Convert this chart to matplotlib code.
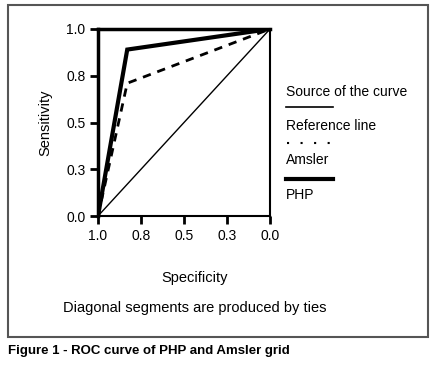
import matplotlib.pyplot as plt
from matplotlib.lines import Line2D
from matplotlib.patches import Rectangle

plt.rcParams['font.family'] = ['Liberation Sans', 'DejaVu Sans']

# 1 - specificity on x, sensitivity on y
ref_x = [0.0, 1.0]
ref_y = [0.0, 1.0]
amsler_x = [0.0, 0.17, 1.0]
amsler_y = [0.0, 0.71, 1.0]
php_x = [0.0, 0.17, 1.0]
php_y = [0.0, 0.89, 1.0]

tick_pos = [0.0, 0.25, 0.5, 0.75, 1.0]
x_labels = ['1.0', '0.8', '0.5', '0.3', '0.0']
y_labels = ['0.0', '0.3', '0.5', '0.8', '1.0']

fig = plt.figure(figsize=(4.35, 3.69), dpi=100)
ax = fig.add_axes([98/435, 1-216/369, 172/435, 187/369])

ax.plot(ref_x, ref_y, color='black', lw=1.0)
ax.plot(amsler_x, amsler_y, color='black', lw=2.0, ls=(0, (3, 2.5)))
ax.plot(php_x, php_y, color='black', lw=3.0, solid_joinstyle='miter')

ax.set_xlim(0, 1)
ax.set_ylim(0, 1)
ax.set_xticks(tick_pos)
ax.set_xticklabels(x_labels)
ax.set_yticks(tick_pos)
ax.set_yticklabels(y_labels)
ax.tick_params(direction='out', length=6, width=2, labelsize=10, pad=3)
for side in ['left', 'top']:
    ax.spines[side].set_linewidth(2.5)
for side in ['right', 'bottom']:
    ax.spines[side].set_linewidth(1.5)
ax.set_ylabel('Sensitivity', fontsize=10.5, labelpad=10)

fig.text(195/435, 1-278/369, 'Specificity', fontsize=10.5, ha='center', va='center')
fig.text(195/435, 1-308/369, 'Diagonal segments are produced by ties', fontsize=10.5,
         ha='center', va='center')

# legend block on the right
lx = 286/435
fig.text(lx, 1-92/369, 'Source of the curve', fontsize=10, va='center')
fig.lines.append(Line2D([lx, 333/435], [1-107/369]*2, color='black', lw=1.2,
                        transform=fig.transFigure))
fig.text(lx, 1-126/369, 'Reference line', fontsize=10, va='center')
fig.lines.append(Line2D([lx + 1/435, 333/435], [1-143/369]*2, color='black', lw=1.5,
                        ls=(0, (1, 5.5)), transform=fig.transFigure))
fig.text(lx, 1-160/369, 'Amsler', fontsize=10, va='center')
fig.lines.append(Line2D([lx, 333/435], [1-179/369]*2, color='black', lw=3,
                        transform=fig.transFigure))
fig.text(lx, 1-195/369, 'PHP', fontsize=10, va='center')

fig.patches.append(Rectangle((8/435, 1-337/369), 420/435, 332/369, fill=False,
                             edgecolor='#555555', lw=1.5, transform=fig.transFigure))
fig.text(8/435, 1-351/369, 'Figure 1 - ROC curve of PHP and Amsler grid', fontsize=9.5,
         fontweight='bold', va='center')

fig.savefig('out.png', dpi=100)
